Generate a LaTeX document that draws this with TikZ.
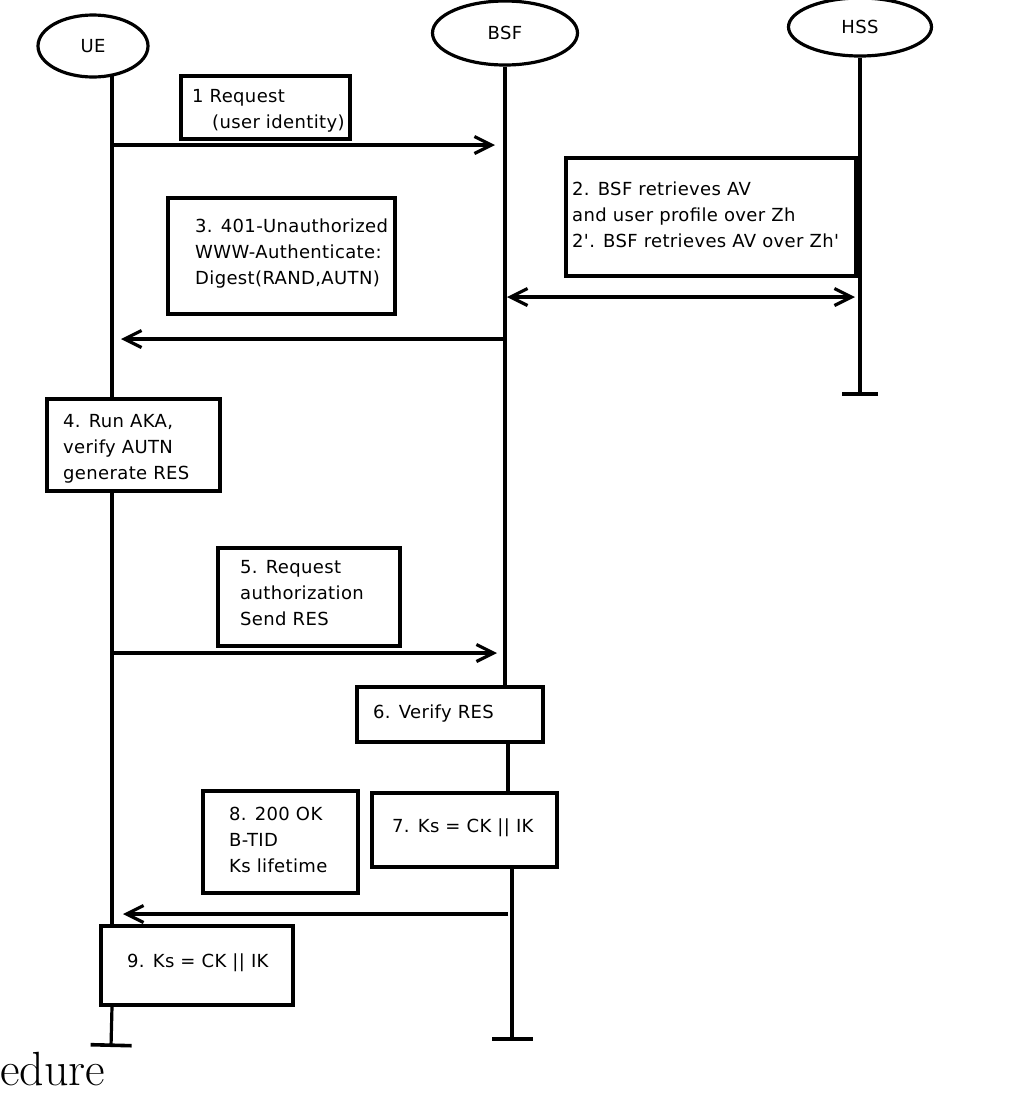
\documentclass[tikz,border=0pt]{standalone}
\usepackage{fontspec}
\newfontfamily\dv{DejaVu Sans}[LetterSpace=2,Ligatures=TeXOff]
\usetikzlibrary{arrows.meta,shapes.geometric,fit}
\newcommand\boxfont{\dv\fontsize{18}{26}\selectfont}
\newcommand\capfont{\rmfamily\fontsize{48}{54}\selectfont}
\newcommand\ts{\rule{0pt}{16pt}}
\tikzset{
  actor/.style={ellipse, draw, line width=3.2pt, inner sep=0pt, font=\boxfont},
  msgbox/.style={draw, line width=3.2pt, rectangle, inner sep=0pt},
  txt/.style={anchor=north west, inner sep=0pt, align=left, font=\boxfont},
  life/.style={line width=3.2pt},
  lifeend/.style={line width=3.2pt, -{Bar[width=#1, line width=3.6pt]}},
  msg/.style={line width=3.2pt, -{Straight Barb[length=17pt,width=17pt]}},
  msgtwo/.style={line width=3.2pt, {Straight Barb[length=17pt,width=17pt]}-{Straight Barb[length=17pt,width=17pt]}},
}
\begin{document}
\begin{tikzpicture}[x=1pt,y=-1pt]
\useasboundingbox (0,0) rectangle (1033,1093);
% actors
\node[actor, minimum width=110pt, minimum height=62pt] (ue) at (93,46) {UE};
\node[actor, minimum width=145pt, minimum height=64pt] (bsf) at (505,33) {BSF};
\node[actor, minimum width=143pt, minimum height=58pt] (hss) at (860,27) {HSS};
% boxes
\node[msgbox, fit={(181,76) (350,139)}] (b1) {};
\node[msgbox, fit={(566,158) (856,276)}] (b2) {};
\node[msgbox, fit={(168,198) (395,314)}] (b3) {};
\node[msgbox, fit={(47,399) (220,491)}] (b4) {};
\node[msgbox, fit={(218,548) (400,646)}] (b5) {};
\node[msgbox, fit={(357,687) (543,742)}] (b6) {};
\node[msgbox, fit={(372,793) (557,867)}] (b7) {};
\node[msgbox, fit={(203,791) (358,893)}] (b8) {};
\node[msgbox, fit={(101,926) (293,1005)}] (b9) {};
% texts
\node[txt] (t1) at (192,86) {\ts 1 Request\\\hspace*{20pt}(user identity)};
\node[txt] (t2) at (572,179) {\ts 2. BSF retrieves AV\\and user profile over Zh\\2'. BSF retrieves AV over Zh'};
\node[txt] (t3) at (195,216) {\ts 3. 401-Unauthorized\\WWW-Authenticate:\\Digest(RAND,AUTN)};
\node[txt] (t4) at (63,411) {\ts 4. Run AKA,\\verify AUTN\\generate RES};
\node[txt] (t5) at (240,557) {\ts 5. Request\\authorization\\Send RES};
\node[txt] (t6) at (373,702) {\ts 6. Verify RES};
\node[txt] (t7) at (392,816) {\ts 7. Ks = CK || IK};
\node[txt] (t8) at (229,804) {\ts 8. 200 OK\\B-TID\\Ks lifetime};
\node[txt] (t9) at (127,951) {\ts 9. Ks = CK || IK};
% lifeline coordinates
\coordinate (ueA) at (112,75);
\coordinate (ueEnd) at (111,1047);
\coordinate (bsfB) at (508,742);
\coordinate (bsfC) at (512,867);
\coordinate (bsfEnd) at (512,1041);
\coordinate (hssEnd) at (860,396);
% lifelines
\draw[life] (ueA) -- (b4.north -| ueA);
\draw[life] (b4.south -| ueA) -- (b9.north -| ueA);
\draw[lifeend=41pt] (b9.south -| ueA) -- (ueEnd);
\draw[life] (bsf.south) -- (b6.north -| bsf.south);
\draw[life] (b6.south -| bsfB) -- (b7.north -| bsfB);
\draw[lifeend=41pt] (b7.south -| bsfC) -- (bsfEnd);
\draw[lifeend=36pt] (hss.south) -- (hssEnd);
% message coordinates
\coordinate (m1s) at (112,145); \coordinate (m1e) at (495,145);
\coordinate (m2s) at (507,297); \coordinate (m2e) at (855,297);
\coordinate (m3s) at (505,339); \coordinate (m3e) at (121,339);
\coordinate (m5s) at (112,653); \coordinate (m5e) at (497,653);
\coordinate (m8s) at (508,914); \coordinate (m8e) at (123,914);
% messages
\draw[msg] (m1s) -- (m1e);
\draw[msgtwo] (m2s) -- (m2e);
\draw[msg] (m3s) -- (m3e);
\draw[msg] (m5s) -- (m5e);
\draw[msg] (m8s) -- (m8e);
% caption fragment
\node[anchor=base west, inner sep=0pt, font=\capfont] (cap) at (0,1085) {edure};
\end{tikzpicture}
\end{document}
